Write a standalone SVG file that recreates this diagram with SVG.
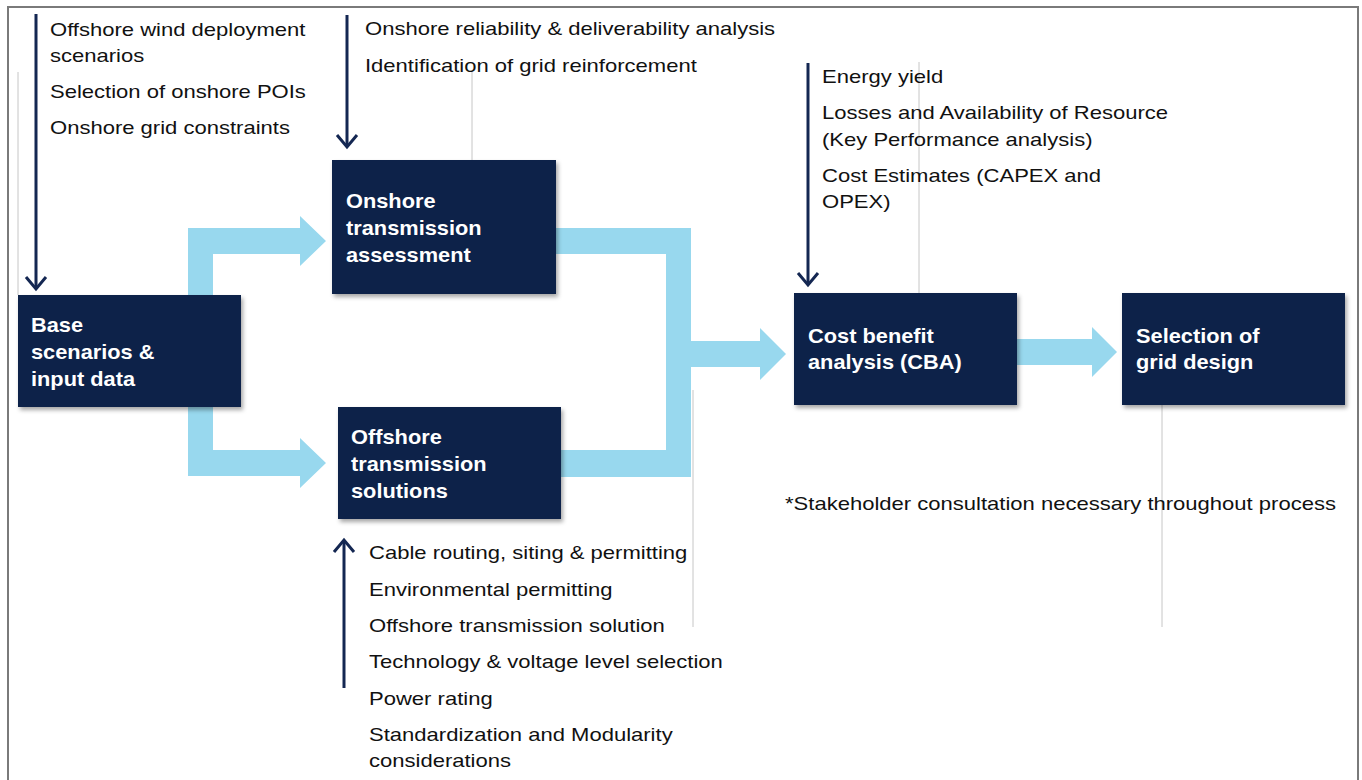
<svg xmlns="http://www.w3.org/2000/svg" width="1362" height="780" viewBox="0 0 1362 780">
  <style>
    .frame{fill:none;stroke:#7a7a7a;stroke-width:2}
    .guide{stroke:#c6c6c6;stroke-width:1;fill:none}
    .flow{fill:#98d8ee}
    .box{fill:#11204a;filter:url(#sh)}
    .bt{font-family:"Liberation Sans",Arial,sans-serif;font-weight:bold;font-size:20px;fill:#ffffff}
    .t{font-family:"Liberation Sans",Arial,sans-serif;font-size:19px;fill:#111111}
    .nav{stroke:#142752;stroke-width:3;fill:none}
    .chev{stroke:#142752;stroke-width:3;fill:none;stroke-linecap:butt;stroke-linejoin:miter}
  </style>
  <defs>
    <filter id="sh" x="-10%" y="-10%" width="125%" height="130%">
      <feDropShadow dx="2" dy="3" stdDeviation="2" flood-color="#000" flood-opacity="0.35"/>
    </filter>
  </defs>
  <rect width="1362" height="780" fill="#ffffff"/>
  <path class="frame" d="M8,780 V7 H1358 V780"/>

  <g id="guides">
    <line class="guide" x1="18" y1="72" x2="18" y2="295"/>
    <line class="guide" x1="472" y1="72" x2="472" y2="160"/>
    <line class="guide" x1="919" y1="62" x2="919" y2="293"/>
    <line class="guide" x1="693" y1="390" x2="693" y2="627"/>
    <line class="guide" x1="1162" y1="405" x2="1162" y2="627"/>
  </g>

  <g id="connectors">
    <path class="flow" d="M188,228 H300 V216 L326,241 L300,266 V254 H213 V450 H300 V438 L326,463 L300,488 V476 H188 Z"/>
    <path class="flow" d="M550,228 H691 V341 H760 V328 L786,354 L760,380 V367 H691 V477 H555 V450 H666 V254 H550 Z"/>
    <path class="flow" d="M1012,339 H1092 V327 L1117,352 L1092,377 V365 H1012 Z"/>
    <line class="nav" x1="36" y1="14" x2="36" y2="288"/>
    <polyline class="chev" points="26,277 36,289 46,277"/>
    <line class="nav" x1="347" y1="15" x2="347" y2="146"/>
    <polyline class="chev" points="337,135 347,147 357,135"/>
    <line class="nav" x1="808" y1="63" x2="808" y2="284"/>
    <polyline class="chev" points="798,273 808,285 818,273"/>
    <line class="nav" x1="344" y1="688" x2="344" y2="541"/>
    <polyline class="chev" points="334,552 344,540 354,552"/>
  </g>

  <g id="base">
    <rect class="box" x="18" y="295" width="223" height="112"/>
    <text class="bt" transform="translate(31,0) scale(1.09,1)"><tspan x="0" y="332">Base</tspan><tspan x="0" y="359">scenarios &amp;</tspan><tspan x="0" y="386">input data</tspan></text>
  </g>
  <g id="onshore">
    <rect class="box" x="332" y="160" width="224" height="134"/>
    <text class="bt" transform="translate(346,0) scale(1.09,1)"><tspan x="0" y="208">Onshore</tspan><tspan x="0" y="235">transmission</tspan><tspan x="0" y="262">assessment</tspan></text>
  </g>
  <g id="offshore">
    <rect class="box" x="338" y="407" width="223" height="112"/>
    <text class="bt" transform="translate(351,0) scale(1.09,1)"><tspan x="0" y="444">Offshore</tspan><tspan x="0" y="471">transmission</tspan><tspan x="0" y="498">solutions</tspan></text>
  </g>
  <g id="cba">
    <rect class="box" x="794" y="293" width="223" height="112"/>
    <text class="bt" transform="translate(808,0) scale(1.09,1)"><tspan x="0" y="343">Cost benefit</tspan><tspan x="0" y="369">analysis (CBA)</tspan></text>
  </g>
  <g id="selection">
    <rect class="box" x="1122" y="293" width="223" height="112"/>
    <text class="bt" transform="translate(1136,0) scale(1.09,1)"><tspan x="0" y="343">Selection of</tspan><tspan x="0" y="369">grid design</tspan></text>
  </g>

  <g id="notes">
    <text class="t" transform="translate(50,0) scale(1.16,1)"><tspan x="0" y="36">Offshore wind deployment</tspan><tspan x="0" y="62">scenarios</tspan><tspan x="0" y="98">Selection of onshore POIs</tspan><tspan x="0" y="134">Onshore grid constraints</tspan></text>
    <text class="t" transform="translate(365,0) scale(1.16,1)"><tspan x="0" y="35">Onshore reliability &amp; deliverability analysis</tspan><tspan x="0" y="72">Identification of grid reinforcement</tspan></text>
    <text class="t" transform="translate(822,0) scale(1.16,1)"><tspan x="0" y="83">Energy yield</tspan><tspan x="0" y="119">Losses and Availability of Resource</tspan><tspan x="0" y="146">(Key Performance analysis)</tspan><tspan x="0" y="182">Cost Estimates (CAPEX and</tspan><tspan x="0" y="208">OPEX)</tspan></text>
    <text class="t" transform="translate(369,0) scale(1.16,1)"><tspan x="0" y="559">Cable routing, siting &amp; permitting</tspan><tspan x="0" y="596">Environmental permitting</tspan><tspan x="0" y="632">Offshore transmission solution</tspan><tspan x="0" y="668">Technology &amp; voltage level selection</tspan><tspan x="0" y="705">Power rating</tspan><tspan x="0" y="741">Standardization and Modularity</tspan><tspan x="0" y="767">considerations</tspan></text>
    <text class="t" transform="translate(785,0) scale(1.16,1)" x="0" y="510">*Stakeholder consultation necessary throughout process</text>
  </g>
</svg>
